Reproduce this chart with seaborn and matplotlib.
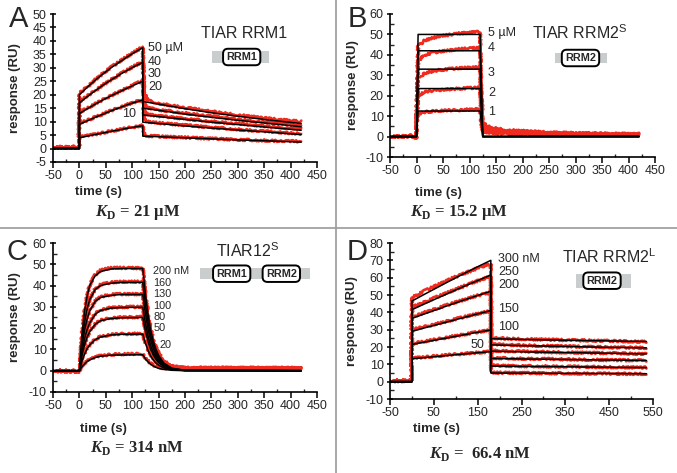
import numpy as np
import pandas as pd
import matplotlib
matplotlib.use('Agg')
import matplotlib.pyplot as plt
from matplotlib.patches import Rectangle
from matplotlib.ticker import MultipleLocator
import seaborn as sns

sns.set_theme(style='ticks')
plt.rcParams['font.family'] = ['Liberation Sans', 'DejaVu Sans']
plt.rcParams['axes.unicode_minus'] = False
plt.rcParams['mathtext.fontset'] = 'custom'
plt.rcParams['mathtext.rm'] = 'Liberation Sans'
plt.rcParams['mathtext.bf'] = 'Liberation Serif:bold'
plt.rcParams['mathtext.bfit'] = 'Liberation Serif:bold:italic'

RED = '#ee2b1e'

# ---- panel A : TIAR RRM1 (uM) ----
A_labels = ['10', '20', '30', '40', '50 µM']
A_label_y = [12.7, 22.8, 27.7, 32.3, 37.3]
A_fit_t = [-50, 0, 0, 15, 30, 45, 60, 75, 90, 105, 120, 120, 150, 200, 250, 300, 350, 420]
A_fit = [
    [0, 0, 4.0, 4.6, 5.2, 5.8, 6.4, 6.9, 7.5, 8.0, 8.5, 4.6, 4.4, 4.0, 3.6, 3.2, 2.9, 2.4],
    [0, 0, 9.0, 10.3, 11.6, 12.8, 14.0, 15.1, 16.2, 17.2, 18.0, 9.8, 9.3, 8.4, 7.6, 6.9, 6.2, 5.2],
    [0, 0, 13.0, 14.8, 16.5, 18.1, 19.6, 21.0, 22.4, 23.7, 25.0, 12.5, 11.9, 10.8, 9.8, 8.9, 8.0, 6.8],
    [0, 0, 17.0, 19.3, 21.5, 23.6, 25.5, 27.3, 29.0, 30.6, 32.0, 15.0, 14.2, 12.8, 11.6, 10.5, 9.5, 8.1],
    [0, 0, 20.0, 22.8, 25.4, 27.8, 30.0, 32.0, 34.0, 35.8, 37.5, 17.5, 16.5, 14.8, 13.3, 12.0, 10.8, 9.3],
]
A_obs_t = [-50, -1, 0, 15, 30, 45, 60, 75, 90, 105, 120, 123, 130, 150, 200, 250, 300, 350, 420]
A_obs = [
    [0.5, 0.5, 4.3, 4.8, 5.3, 5.9, 6.5, 7.0, 7.6, 8.1, 8.6, 5.0, 4.7, 4.5, 4.1, 3.7, 3.3, 3.0, 2.6],
    [0.5, 0.5, 9.5, 10.5, 11.7, 12.9, 14.1, 15.2, 16.3, 17.3, 18.2, 10.8, 10.0, 9.5, 8.7, 7.9, 7.1, 6.4, 5.5],
    [0.5, 0.5, 13.5, 15.0, 16.6, 18.2, 19.7, 21.1, 22.5, 23.9, 25.3, 13.5, 12.7, 12.1, 11.1, 10.1, 9.2, 8.4, 7.3],
    [0.5, 0.5, 17.5, 19.5, 21.6, 23.7, 25.6, 27.4, 29.1, 30.8, 32.3, 16.5, 15.2, 14.4, 13.2, 12.0, 10.9, 9.9, 8.7],
    [0.5, 0.5, 20.5, 23.0, 25.6, 28.0, 30.2, 32.2, 34.2, 36.0, 37.8, 21.0, 17.8, 16.8, 15.2, 13.8, 12.5, 11.3, 10.0],
]

# ---- panel B : TIAR RRM2S (uM) ----
B_labels = ['1', '2', '3', '4', '5 µM']
B_label_y = [12.2, 21.2, 31.3, 43.5, 50.6]
B_fit_t = [-50, 0, 3, 120, 125, 420]
B_fit = [
    [0, 0, 12.5, 12.5, 0, 0],
    [0, 0, 23.5, 23.5, 0, 0],
    [0, 0, 33.0, 33.0, 0, 0],
    [0, 0, 42.0, 42.0, 0, 0],
    [0, 0, 50.0, 50.0, 0, 0],
]
B_obs_t = [-50, -5, -1, 1, 3, 15, 40, 80, 120, 122, 125, 140, 170, 250, 350, 420]
B_obs = [
    [0, 0.3, -1, 6, 11.0, 12.0, 12.6, 13.0, 13.5, 7, 2.5, 1.8, 1.3, 1.0, 0.8, 0.7],
    [0, 0.3, -1, 10, 20.0, 21.8, 22.8, 23.5, 24.0, 12, 3.5, 2.5, 1.8, 1.2, 1.0, 0.9],
    [0, 0.3, -1, 14, 28.5, 31.0, 32.5, 33.5, 34.0, 17, 4.5, 3.2, 2.2, 1.4, 1.1, 1.0],
    [0, 0.3, -1, 18, 37.0, 40.0, 41.5, 42.8, 43.5, 22, 5.5, 3.8, 2.7, 1.7, 1.3, 1.1],
    [0, 0.3, -1, 20, 44.0, 47.0, 49.0, 50.5, 51.3, 25, 6.5, 4.5, 3.2, 2.0, 1.5, 1.3],
]

# ---- panel C : TIAR12S (nM) ----
C_labels = ['20', '50', '80', '100', '130', '160', '200 nM']
C_label_x = [151, 140, 140, 140, 140, 140, 140]
C_label_y = [12.0, 20.0, 25.3, 30.6, 35.9, 41.3, 47.0]
C_fit_t = [-50, 0, 5, 10, 15, 20, 30, 40, 60, 80, 120,
           125, 130, 135, 140, 145, 150, 160, 175, 200, 420]
C_fit = [
    [0, 0, 1.9, 3.3, 4.4, 5.1, 6.2, 6.8, 7.3, 7.4, 7.5, 5.6, 4.1, 3.0, 2.2, 1.6, 1.1, 0.6, 0.2, 0, 0],
    [0, 0, 4.6, 7.9, 10.5, 12.2, 14.6, 15.8, 16.8, 17.1, 17.2, 12.9, 9.5, 6.9, 5.0, 3.6, 2.6, 1.3, 0.4, 0.1, 0],
    [0, 0, 7.3, 12.3, 16.0, 18.5, 21.8, 23.5, 24.5, 24.9, 25.0, 18.8, 13.8, 10.0, 7.3, 5.3, 3.8, 1.9, 0.6, 0.1, 0],
    [0, 0, 8.9, 15.2, 19.7, 22.6, 26.5, 28.3, 29.4, 29.7, 29.8, 22.4, 16.4, 11.9, 8.6, 6.3, 4.5, 2.2, 0.7, 0.1, 0],
    [0, 0, 11.5, 19.3, 24.7, 28.3, 32.6, 34.4, 35.4, 35.8, 35.8, 26.9, 19.7, 14.3, 10.4, 7.5, 5.4, 2.7, 0.9, 0.1, 0],
    [0, 0, 14.1, 23.2, 29.5, 33.6, 38.2, 40.0, 41.1, 41.5, 41.5, 31.1, 22.8, 16.6, 12.0, 8.7, 6.2, 3.1, 1.0, 0.2, 0],
    [0, 0, 17.3, 28.3, 35.5, 40.3, 44.6, 46.6, 47.8, 48.0, 48.0, 36.0, 26.4, 19.2, 13.9, 10.1, 7.2, 3.6, 1.2, 0.2, 0],
]
C_obs_t = [-50, -1, 0, 5, 10, 15, 20, 30, 40, 60, 80, 120,
           125, 130, 135, 140, 145, 150, 160, 175, 200, 420]
C_obs = [
    [0, -0.3, 0, 2.1, 3.5, 4.6, 5.3, 6.4, 7.0, 7.6, 7.8, 7.9, 6.0, 4.6, 3.5, 2.7, 2.1, 1.7, 1.2, 1.0, 0.9, 0.9],
    [0, -0.3, 0, 4.8, 8.1, 10.7, 12.4, 14.8, 16.0, 17.0, 17.3, 17.4, 13.3, 10.0, 7.4, 5.6, 4.2, 3.2, 2.0, 1.2, 1.0, 1.0],
    [0, -0.3, 0, 7.5, 12.5, 16.2, 18.7, 22.0, 23.7, 24.8, 25.1, 25.2, 19.2, 14.3, 10.6, 7.9, 6.0, 4.5, 2.6, 1.5, 1.1, 1.1],
    [0, -0.3, 0, 9.1, 15.4, 19.9, 22.8, 26.8, 28.6, 29.7, 29.9, 30.0, 22.8, 16.9, 12.5, 9.3, 7.0, 5.2, 3.0, 1.6, 1.2, 1.1],
    [0, -0.3, 0, 11.7, 19.5, 24.9, 28.6, 32.9, 34.8, 35.8, 36.0, 36.0, 27.3, 20.2, 14.9, 11.1, 8.3, 6.2, 3.5, 1.8, 1.2, 1.2],
    [0, -0.3, 0, 14.3, 23.4, 29.8, 33.9, 38.5, 40.4, 41.5, 41.8, 41.8, 31.5, 23.3, 17.3, 12.8, 9.5, 7.0, 4.0, 2.0, 1.3, 1.2],
    [0, -0.3, 0, 17.5, 28.5, 35.8, 40.6, 45.0, 47.2, 48.4, 48.3, 48.2, 36.5, 27.0, 20.0, 14.8, 11.0, 8.2, 4.6, 2.2, 1.4, 1.3],
]

# ---- panel D : TIAR RRM2L (nM) ----
D_labels = ['50', '100', '150', '200', '250', '300 nM']
D_label_x = [134, 196, 196, 196, 196, 196]
D_label_y = [21.0, 31.7, 42.0, 55.6, 63.4, 70.8]
D_fit_t = [-50, 0, 0, 30, 60, 90, 120, 150, 180, 180, 250, 350, 450, 535]
D_fit = [
    [0, 0, 13.2, 13.9, 14.6, 15.3, 16.0, 16.7, 17.3, 5.0, 4.9, 4.8, 4.7, 4.6],
    [0, 0, 21.5, 22.9, 24.3, 25.7, 27.1, 28.5, 29.8, 9.0, 8.8, 8.6, 8.3, 8.1],
    [0, 0, 29.0, 31.1, 33.1, 35.1, 37.1, 39.1, 41.0, 13.4, 13.1, 12.8, 12.5, 12.2],
    [0, 0, 36.5, 39.2, 41.9, 44.6, 47.2, 49.7, 52.2, 17.6, 17.2, 16.8, 16.4, 16.0],
    [0, 0, 41.5, 45.0, 48.4, 51.8, 55.1, 58.3, 61.5, 21.2, 20.8, 20.3, 19.8, 19.5],
    [0, 0, 46.5, 50.6, 54.6, 58.6, 62.5, 66.3, 70.0, 24.8, 24.4, 23.9, 23.5, 23.2],
]
D_obs_t = [-50, -1, 0, 30, 60, 90, 120, 150, 180, 181, 250, 350, 450, 535]
D_obs = [
    [0.5, 0.5, 13.5, 14.2, 14.9, 15.6, 16.2, 16.8, 17.3, 5.2, 5.0, 4.8, 4.6, 4.5],
    [0.5, 0.5, 22.0, 23.3, 24.6, 26.0, 27.3, 28.6, 29.8, 9.3, 9.0, 8.7, 8.4, 8.1],
    [0.5, 0.5, 30.0, 31.8, 33.6, 35.5, 37.4, 39.2, 40.8, 13.7, 13.3, 12.9, 12.5, 12.2],
    [0.5, 0.5, 37.5, 40.0, 42.5, 45.0, 47.4, 49.7, 51.5, 17.9, 17.4, 16.9, 16.4, 16.0],
    [0.5, 0.5, 43.0, 46.0, 49.2, 52.3, 55.3, 58.2, 60.8, 21.5, 21.0, 20.4, 19.8, 19.5],
    [0.5, 0.5, 48.5, 52.5, 56.0, 59.5, 62.5, 65.5, 68.0, 25.2, 24.6, 24.0, 23.5, 23.0],
]


W, H = 677, 473
def fx(px):
    return px / W
def fy(py):
    return 1 - py / H


fig = plt.figure(figsize=(6.77, 4.73), dpi=100)


def make_ax(left, top, right, bottom):
    return fig.add_axes([fx(left), fy(bottom), fx(right) - fx(left), (bottom - top) / H])


def draw_panel(ax, obs_t, obs, fit_t, fit, xlim, ylim, xstep, ystep, yminor):
    for row in obs:
        sns.lineplot(x=obs_t, y=row, ax=ax, color=RED, lw=1.9,
                     estimator=None, sort=False)
        ax.lines[-1].set_sketch_params(1.1, 2.0, 3.0)
    for row in fit:
        sns.lineplot(x=fit_t, y=row, ax=ax, color='black', lw=1.1,
                     estimator=None, sort=False)
    ax.set_xlim(*xlim)
    ax.set_ylim(*ylim)
    ax.set_xticks(np.arange(xlim[0], xlim[1] + 1, xstep))
    ax.set_yticks(np.arange(ylim[0], ylim[1] + 1, ystep))
    ax.xaxis.set_minor_locator(MultipleLocator(xstep / 2))
    if yminor:
        ax.yaxis.set_minor_locator(MultipleLocator(ystep / 2))
    sns.despine(ax=ax)
    for s in ['left', 'bottom']:
        ax.spines[s].set_linewidth(1.2)
        ax.spines[s].set_color('black')
    ax.tick_params(axis='both', which='major', labelsize=9, width=1.1,
                   color='black', pad=2)
    ax.tick_params(axis='y', which='major', direction='inout', length=5)
    ax.tick_params(axis='y', which='minor', direction='in', length=3, width=1)
    ax.tick_params(axis='x', which='major', direction='out', length=4)
    ax.tick_params(axis='x', which='minor', direction='in', length=2.5, width=1)
    ax.set_xlabel('')
    ax.set_ylabel('')


def domain(x0, x1, y0, y1, boxes):
    fig.add_artist(Rectangle((fx(x0), fy(y1)), (x1 - x0) / W, (y1 - y0) / H,
                             transform=fig.transFigure, fc='#c9cdcd', ec='none'))
    for bx, by, name in boxes:
        fig.text(fx(bx), fy(by), name, ha='center', va='center', fontsize=7.8,
                 fontweight='bold',
                 bbox=dict(boxstyle='round,pad=0.3,rounding_size=0.45',
                           fc='white', ec='black', lw=1.4))


def labels(letter, lx, ly, title, tx, ty, ylx, yly, timx, timy, kd, kx, ky):
    fig.text(fx(lx), fy(ly), letter, ha='left', va='top', fontsize=21)
    fig.text(fx(tx), fy(ty), title, ha='center', va='center', fontsize=11.5)
    fig.text(fx(ylx), fy(yly), 'response (RU)', rotation=90, ha='center',
             va='center', fontsize=9.5, fontweight='bold')
    fig.text(fx(timx), fy(timy), 'time (s)', ha='center', va='center',
             fontsize=9.5, fontweight='bold')
    fig.text(fx(kx), fy(ky), kd, ha='center', va='center', fontsize=12,
             family='Liberation Serif', fontweight='bold')


# panel A
axA = make_ax(53, 14, 317, 162)
draw_panel(axA, A_obs_t, A_obs, A_fit_t, A_fit, (-50, 450), (-5, 50), 50, 5, False)
for lab, yv in zip(A_labels, A_label_y):
    axA.text(80 if lab == '10' else 130, yv, lab, fontsize=9, va='center', ha='left')
labels('A', 9, 5, 'TIAR RRM1', 244, 33, 15, 88, 98, 192,
       r'$\mathbfit{K}_{\mathbf{D}}$ = 21 µM', 138, 212)
domain(211.7, 269.3, 50.7, 62.7, [(241.7, 57, 'RRM1')])

# panel B
axB = make_ax(390, 14, 655, 157)
draw_panel(axB, B_obs_t, B_obs, B_fit_t, B_fit, (-50, 450), (-10, 60), 50, 10, True)
for lab, yv in zip(B_labels, B_label_y):
    axB.text(135, yv, lab, fontsize=9, va='center', ha='left')
labels('B', 348, 5, r'TIAR RRM2$^{\mathrm{S}}$', 580, 33, 353, 85.5, 438, 193,
       r'$\mathbfit{K}_{\mathbf{D}}$ = 15.2 µM', 459, 212)
domain(554.7, 607.3, 52.7, 63.3, [(580.5, 58, 'RRM2')])

# panel C
axC = make_ax(53, 243, 317, 392)
draw_panel(axC, C_obs_t, C_obs, C_fit_t, C_fit, (-50, 450), (-10, 60), 50, 10, True)
for lab, xv, yv in zip(C_labels, C_label_x, C_label_y):
    axC.text(xv, yv, lab, fontsize=7.8, va='center', ha='left')
labels('C', 7, 238, r'TIAR12$^{\mathrm{S}}$', 248, 251, 15, 317.5, 103, 429,
       r'$\mathbfit{K}_{\mathbf{D}}$ = 314 nM', 137, 448)
domain(200, 310, 268.3, 279.3, [(231.7, 273.7, 'RRM1'), (281.3, 273.7, 'RRM2')])

# panel D
axD = make_ax(390, 243, 653, 399)
draw_panel(axD, D_obs_t, D_obs, D_fit_t, D_fit, (-50, 550), (-10, 80), 100, 10, True)
for lab, xv, yv in zip(D_labels, D_label_x, D_label_y):
    axD.text(xv, yv, lab, fontsize=9, va='center', ha='left')
labels('D', 347, 238, r'TIAR RRM2$^{\mathrm{L}}$', 609, 257, 352, 321, 436, 429,
       r'$\mathbfit{K}_{\mathbf{D}}$ =  66.4 nM', 480, 454)
domain(575.7, 631.3, 273.7, 287.7, [(602, 280.7, 'RRM2')])

# panel dividers
fig.add_artist(plt.Line2D([fx(336), fx(336)], [0, 1], transform=fig.transFigure,
                          color='#9a9a9a', lw=1.2))
fig.add_artist(plt.Line2D([0, 1], [fy(228), fy(228)], transform=fig.transFigure,
                          color='#9a9a9a', lw=1.2))

fig.savefig('out.png', dpi=100)
